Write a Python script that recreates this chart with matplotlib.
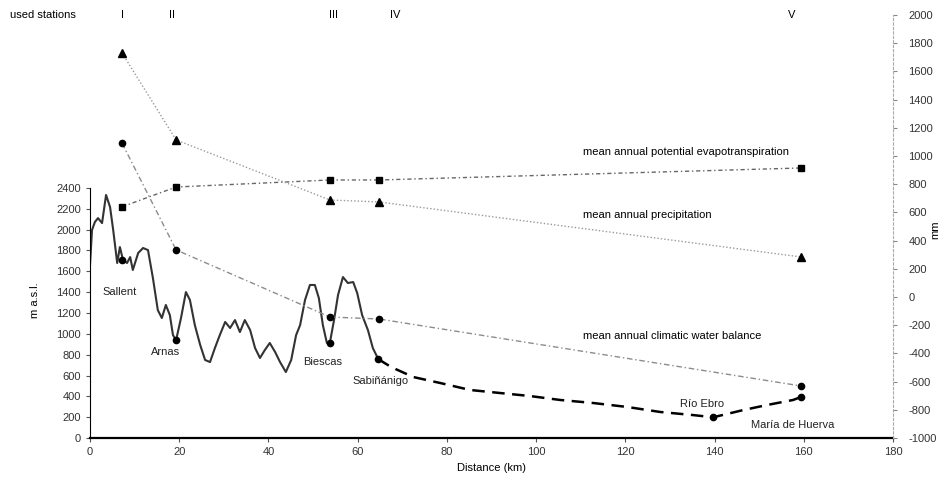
import matplotlib
matplotlib.use('Agg')
import matplotlib.pyplot as plt

plt.rcParams['font.family'] = ['Liberation Sans', 'DejaVu Sans']
plt.rcParams['font.size'] = 8
plt.rcParams['axes.unicode_minus'] = False

# elevation profile along the transect (km, m a.s.l.)
profile_km = [0, 0.45, 1.1, 1.8, 2.7, 3.6, 4.5, 5.2, 6.1, 6.7, 7.4, 8.3, 9.0, 9.6,
              10.8, 11.9, 13.0, 14.1, 15.2, 16.1, 17.0, 17.9, 18.6, 19.3, 20.4,
              21.5, 22.4, 23.5, 24.7, 25.8, 26.9, 28.0, 29.1, 30.3, 31.4, 32.5,
              33.6, 34.7, 35.9, 37.0, 38.1, 39.2, 40.3, 41.5, 42.6, 43.9, 45.1,
              46.2, 47.1, 48.2, 49.3, 50.4, 51.3, 52.2, 53.1, 53.8, 54.7, 55.6,
              56.7, 57.8, 59.0, 59.9, 61.0, 62.3, 63.4, 64.6]
profile_m = [1660, 1996, 2074, 2111, 2063, 2333, 2217, 1996, 1680, 1833, 1709, 1680,
             1737, 1613, 1776, 1824, 1804, 1536, 1228, 1152, 1277, 1180, 988, 940,
             1152, 1401, 1325, 1084, 893, 749, 729, 864, 988, 1114, 1056, 1132,
             1017, 1132, 1036, 864, 768, 845, 912, 825, 729, 633, 749, 988, 1084,
             1325, 1469, 1469, 1343, 1084, 912, 921, 1132, 1373, 1545, 1488, 1497,
             1391, 1180, 1036, 864, 758]

# lowland part (dashed)
lowland_km = [64.6, 67.5, 72.5, 78.5, 85.2, 91.9, 98.6, 105.4, 112.8, 120.4,
              127.8, 135.2, 139.7, 146.4, 151.8, 157.6, 159.4]
lowland_m = [758, 681, 585, 528, 461, 432, 403, 365, 336, 298, 250, 220, 199,
             268, 317, 365, 394]

# places on the profile
place_names = ['Sallent', 'Arnas', 'Biescas', 'Sabiñánigo', 'Río Ebro', 'María de Huerva']
place_km = [7.2, 19.3, 53.8, 64.6, 139.7, 159.4]
place_m = [1709, 940, 912, 758, 199, 394]

# climate stations (mm)
station_ids = ['I', 'II', 'III', 'IV', 'V']
station_km = [7.2, 19.3, 53.8, 64.8, 159.4]
pet_mm = [640, 780, 830, 830, 915]
precip_mm = [1730, 1114, 688, 674, 284]
balance_mm = [1090, 334, -142, -156, -631]

fig = plt.figure(figsize=(9.43, 4.83), dpi=100)
W, H = 943, 483


def fx(x):
    return x / W


def fy(y):
    return 1 - y / H


ax = fig.add_axes([fx(90), fy(438), (893 - 90) / W, (438 - 15) / H])
ax.set_xlim(0, 180)
ax.set_ylim(0, 423 * 9.6)

ax.plot(profile_km, profile_m, color='#333333', lw=1.5, solid_joinstyle='round')
ax.plot(lowland_km, lowland_m, color='black', lw=1.8, ls=(0, (5, 3)))
ax.plot(place_km, place_m, 'o', color='black', ms=4.5, zorder=5)

offsets = [(-3, -32), (-11, -12), (-7, -19), (2, -22), (-11, 13), (-8, -28)]
for name, km, m, (dx, dy) in zip(place_names, place_km, place_m, offsets):
    ax.annotate(name, (km, m), xytext=(dx * 0.72, dy * 0.72), textcoords='offset points',
                ha='center', va='center', fontsize=8, color='#222222')

ax.set_xticks(range(0, 181, 20))
ax.set_yticks(range(0, 2401, 200))
ax.spines['left'].set_bounds(0, 2400)
ax.spines['top'].set_visible(False)
ax.spines['right'].set_visible(False)
ax.spines['bottom'].set_linewidth(1.6)
ax.tick_params(axis='both', labelsize=8, length=3, color='#555555', labelcolor='#333333')
ax.set_xlabel('Distance (km)', fontsize=8, labelpad=4)
fig.text(fx(35), fy(300), 'm a.s.l.', rotation=90, ha='center', va='center', fontsize=8)

ax2 = ax.twinx()
ax2.set_ylim(-1000, 2000)
ax2.set_yticks(range(-1000, 2001, 200))
for s in ['top', 'left', 'bottom']:
    ax2.spines[s].set_visible(False)
ax2.spines['right'].set_color('#aaaaaa')
ax2.spines['right'].set_linestyle((0, (2, 2)))
ax2.tick_params(axis='y', labelsize=8, length=3, color='#888888', pad=8, labelcolor='#333333')

ax2.plot(station_km, pet_mm, color='#666666', lw=1.0, ls=(0, (3, 2, 1, 2)),
         marker='s', ms=5, mfc='black', mec='black')
ax2.plot(station_km, precip_mm, color='#9a9a9a', lw=1.0, ls=(0, (1, 1.5)),
         marker='^', ms=5.5, mfc='black', mec='black')
ax2.plot(station_km, balance_mm, color='#8c8c8c', lw=1.0, ls=(0, (4, 2, 1, 2)),
         marker='o', ms=4.5, mfc='black', mec='black')

fig.text(fx(583), fy(152), 'mean annual potential evapotranspiration', fontsize=8, va='center')
fig.text(fx(583), fy(215), 'mean annual precipitation', fontsize=8, va='center')
fig.text(fx(583), fy(336), 'mean annual climatic water balance', fontsize=8, va='center')
fig.text(fx(935), fy(230), 'mm', rotation=90, ha='center', va='center', fontsize=8)

# station numbers along the top
fig.text(fx(10), fy(15), 'used stations', fontsize=8, va='center')
for sid, x in zip(station_ids, [123, 172, 333, 395, 792]):
    fig.text(fx(x), fy(15), sid, fontsize=8, ha='center', va='center')

fig.savefig('out.png', dpi=100)
